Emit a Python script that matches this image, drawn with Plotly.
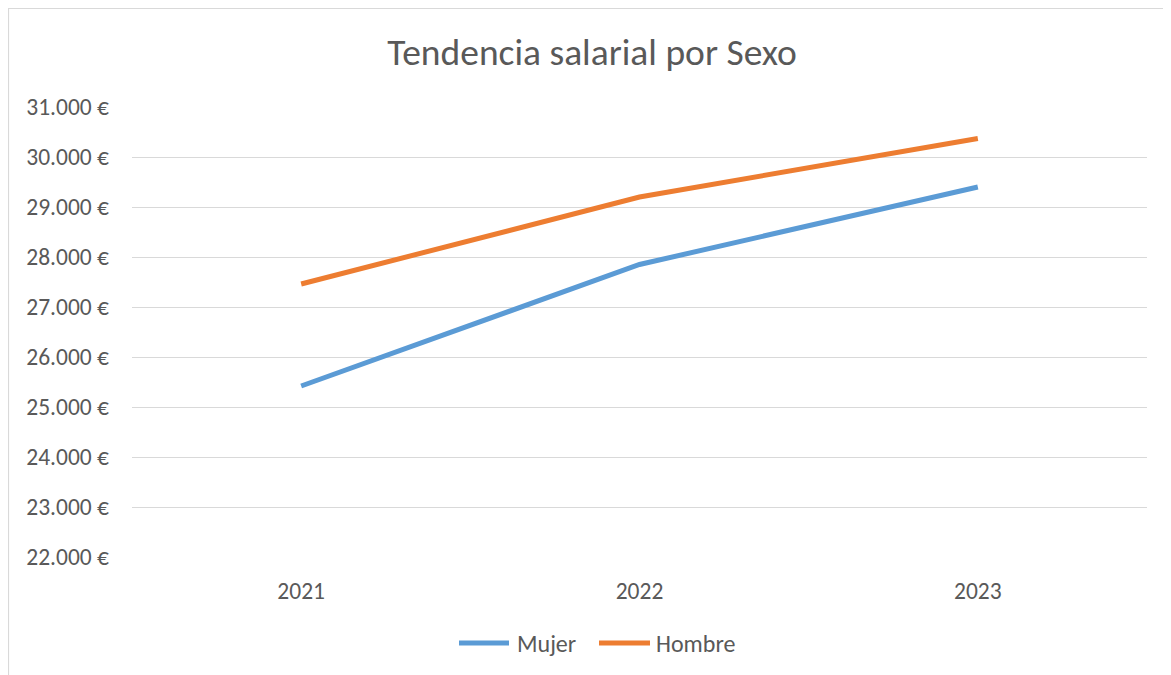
import plotly.graph_objects as go

years = ["2021", "2022", "2023"]
mujer = [25420, 27850, 29400]
hombre = [27460, 29200, 30370]
series_names = ["Mujer", "Hombre"]
series_colors = ["#5B9BD5", "#ED7D31"]
y_ticks = [22000, 23000, 24000, 25000, 26000, 27000, 28000, 29000, 30000, 31000]
y_ticktext = [f"{v:,}".replace(",", ".") + " €" for v in y_ticks]

W, H = 1171, 675
OFF = 8  # page body margin
L, R, T, B = 132 - OFF, 1171 - (1147 - OFF), 107 - OFF, 675 - (557 - OFF)
pw, ph = W - L - R, H - T - B

font_family = "Carlito, Lato, 'Open Sans', sans-serif"
gray = "#595959"

fig = go.Figure()
for name, vals, col in zip(series_names, [mujer, hombre], series_colors):
    fig.add_trace(go.Scatter(x=years, y=vals, name=name, mode="lines",
                             line=dict(color=col, width=5), showlegend=False))

def px_x(p):
    return (p - OFF - L) / pw

def px_y(p):
    return (H - B - (p - OFF)) / ph

# manual legend (long line samples as in the reference)
leg_y = px_y(643)
leg_items = [(457, 511, 515), (597, 652, 654)]
shapes = [dict(type="rect", xref="paper", yref="paper",
               x0=px_x(8.5), x1=px_x(1190), y0=px_y(700), y1=px_y(8.5),
               line=dict(color="#D9D9D9", width=1.2), fillcolor="rgba(0,0,0,0)",
               layer="below")]
annotations = []
for (xa, xb, xt), name, col in zip(leg_items, series_names, series_colors):
    shapes.append(dict(type="line", xref="paper", yref="paper",
                       x0=px_x(xa + 2), x1=px_x(xb - 2), y0=leg_y, y1=leg_y,
                       line=dict(color=col, width=5)))
    annotations.append(dict(text=name, xref="paper", yref="paper", x=px_x(xt),
                            y=leg_y, xanchor="left", yanchor="middle", showarrow=False,
                            font=dict(size=24, color=gray, family=font_family)))

fig.update_layout(
    width=W, height=H,
    margin=dict(l=L, r=R, t=T, b=B),
    paper_bgcolor="white", plot_bgcolor="white",
    font=dict(family=font_family, color=gray, size=23),
    title=dict(text="Tendencia salarial por Sexo", x=(592 - OFF) / W, xref="container",
               xanchor="center", y=1 - (52 - OFF) / H, yanchor="middle",
               font=dict(size=37.5, color=gray, family=font_family)),
    xaxis=dict(type="category", range=[-0.5, 2.5], showgrid=False,
               showline=False, zeroline=False, ticks="", ticklabelstandoff=17,
               tickfont=dict(size=23.5, color=gray)),
    yaxis=dict(range=[22000, 31000], tickvals=y_ticks, ticktext=y_ticktext,
               showgrid=True, gridcolor="#D9D9D9", gridwidth=1.3,
               zeroline=False, showline=False, ticks="", ticklabelstandoff=22,
               tickfont=dict(size=23.5, color=gray)),
    showlegend=False,
    shapes=shapes,
    annotations=annotations,
)

fig.write_html("out.html")
